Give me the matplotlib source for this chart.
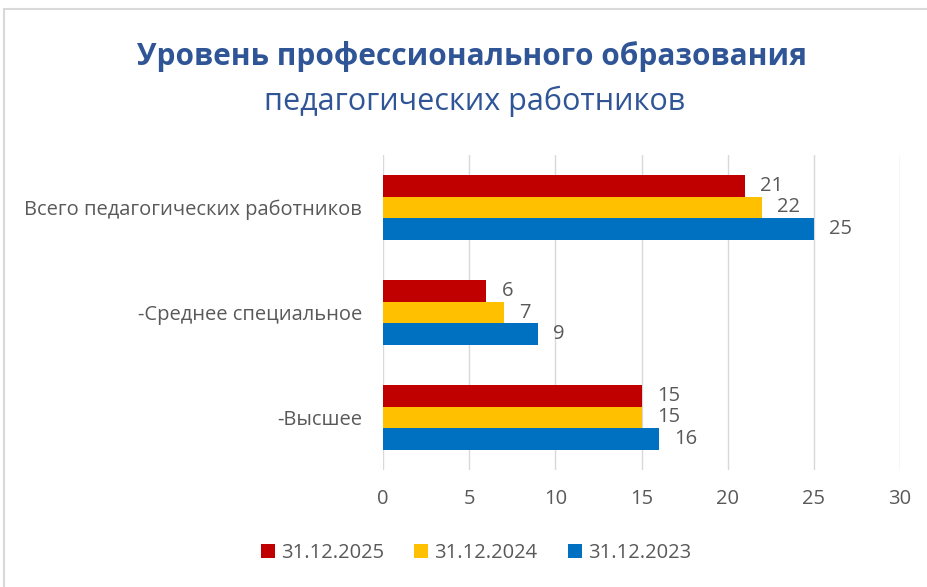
import numpy as np
import matplotlib.pyplot as plt
from matplotlib.patches import Rectangle

# Данные
kategorien = ['Всего педагогических работников', '-Среднее специальное', '-Высшее']
serien = ['31.12.2025', '31.12.2024', '31.12.2023']
werte_2025 = [21, 6, 15]
werte_2024 = [22, 7, 15]
werte_2023 = [25, 9, 16]

farben = ['#C00000', '#FFC000', '#0070C0']
grau = '#595959'

plt.rcParams['font.family'] = ['Open Sans', 'DejaVu Sans']

fig = plt.figure(figsize=(9.27, 5.87), dpi=100)
ax = fig.add_axes([383 / 927, 1 - 470 / 587, 517 / 927, 315 / 587])

# Rahmen um das Diagramm
fig.patches.append(Rectangle((4 / 927, -0.1), 1.2, 1 - 9 / 587 + 0.1,
                             transform=fig.transFigure, fill=False,
                             edgecolor='#D9D9D9', linewidth=1.5))

y = np.arange(len(kategorien))
h = 0.207
for i, (werte, farbe, name) in enumerate(zip([werte_2025, werte_2024, werte_2023], farben, serien)):
    bars = ax.barh(y + (i - 1) * h, werte, height=h, color=farbe, label=name)
    ax.bar_label(bars, padding=11, fontsize=14.5, color=grau)

ax.set_xlim(0, 30)
ax.set_ylim(-0.5, 2.5)
ax.invert_yaxis()
ax.set_xticks(range(0, 31, 5))
ax.set_yticks(y)
ax.set_yticklabels(kategorien)
ax.tick_params(axis='x', labelsize=14.5, labelcolor=grau, length=0, pad=14)
ax.tick_params(axis='y', labelsize=14.5, labelcolor=grau, length=0, pad=15)
ax.grid(axis='x', color='#D9D9D9', linewidth=1)
ax.set_axisbelow(True)
for s in ax.spines.values():
    s.set_visible(False)

fig.text(472 / 927, 1 - 57 / 587, 'Уровень профессионального образования',
         ha='center', va='center', fontsize=21.5, fontweight='bold', color='#2F5597')
fig.text(475 / 927, 1 - 101 / 587, 'педагогических работников',
         ha='center', va='center', fontsize=22, color='#2F5597')

fig.legend(loc='center', bbox_to_anchor=(476 / 927, 1 - 553 / 587), ncol=3,
           frameon=False, fontsize=14.5, labelcolor=grau, handlelength=0.7,
           handleheight=0.7, handletextpad=0.3, columnspacing=1.5)

fig.savefig('out.png', dpi=100)
